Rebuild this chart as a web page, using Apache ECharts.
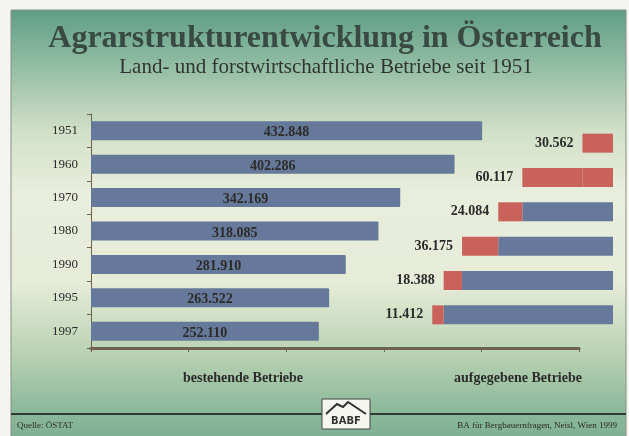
<!DOCTYPE html>
<html>
<head>
<meta charset="utf-8">
<script src="https://cdn.jsdelivr.net/npm/echarts@6/dist/echarts.min.js"></script>
<style>
  html, body { margin: 0; padding: 0; background: #f4f4f0; }
  #chart { width: 629px; height: 436px; }
</style>
</head>
<body>
<div id="chart"></div>
<script>
// bestehende Betriebe
let jahre = ['1951', '1960', '1970', '1980', '1990', '1995', '1997'];
let betriebe = [432848, 402286, 342169, 318085, 281910, 263522, 252110];
// aufgegebene Betriebe (zwischen den Stichjahren)
let perioden = ['1951-1960', '1960-1970', '1970-1980', '1980-1990', '1990-1995', '1995-1997'];
let aufgegeben = [30562, 60117, 24084, 36175, 18388, 11412];
// bereits vorher aufgegeben (blauer Teil rechts)
let bisherAufgegeben = [0, 30562, 90679, 114763, 150938, 169326];

let serif = '"Liberation Serif", "DejaVu Serif", serif';
let blau = '#66799b';
let rot = '#c8625b';
let dunkel = '#2c2c2a';

function zahl(v) {
    return String(v).replace(/(\d)(?=(\d{3})+$)/g, '$1.');
}

// 1960-1970 ist im Original ganz rot gezeichnet
let ganzRot = { color: rot, borderColor: rot, borderWidth: 1.5, opacity: 1 };

let option = {
    animation: false,
    backgroundColor: '#f4f4f0',
    graphic: [
        {
            type: 'rect', z: -10,
            shape: { x: 11, y: 10, width: 615, height: 440 },
            style: {
                fill: new echarts.graphic.LinearGradient(0, 0, 0, 1, [
                    { offset: 0, color: '#5f9d86' },
                    { offset: 0.12, color: '#8fbba2' },
                    { offset: 0.28, color: '#d3e1c8' },
                    { offset: 0.42, color: '#e9eedd' },
                    { offset: 0.62, color: '#e6ecd8' },
                    { offset: 0.78, color: '#b9d2b3' },
                    { offset: 0.9, color: '#8fba9c' },
                    { offset: 1, color: '#78ab90' }
                ]),
                stroke: '#8a8f88', lineWidth: 1
            }
        },
        {
            type: 'line', z: 5,
            shape: { x1: 11, y1: 414, x2: 626, y2: 414 },
            style: { stroke: '#2f3a33', lineWidth: 2 }
        },
        {
            type: 'text', z: 5,
            style: { x: 17, y: 426, text: 'Quelle: ÖSTAT', font: '9px ' + serif, fill: dunkel, verticalAlign: 'middle' }
        },
        {
            type: 'text', z: 5,
            style: { x: 617, y: 426, text: 'BA für Bergbauernfragen, Neisl, Wien 1999', font: '9px ' + serif, fill: dunkel, textAlign: 'right', verticalAlign: 'middle' }
        },
        // Logo
        {
            type: 'rect', z: 6,
            shape: { x: 322, y: 399, width: 48, height: 30 },
            style: { fill: '#f6f6f0', stroke: '#444', lineWidth: 1 }
        },
        {
            type: 'polyline', z: 7,
            shape: { points: [[326, 414], [337, 404], [343, 407], [348, 402], [366, 414]] },
            style: { stroke: '#333', lineWidth: 2, fill: null }
        },
        {
            type: 'text', z: 7,
            style: { x: 346, y: 421, text: 'BABF', font: 'bold 10px "DejaVu Sans", sans-serif', fill: '#333', textAlign: 'center', verticalAlign: 'middle' }
        },
        {
            type: 'text', z: 5,
            style: { x: 243, y: 378, text: 'bestehende Betriebe', font: 'bold 14px ' + serif, fill: dunkel, textAlign: 'center', verticalAlign: 'middle' }
        },
        {
            type: 'text', z: 5,
            style: { x: 518, y: 378, text: 'aufgegebene Betriebe', font: 'bold 14px ' + serif, fill: dunkel, textAlign: 'center', verticalAlign: 'middle' }
        }
    ],
    title: [
        {
            text: 'Agrarstrukturentwicklung in Österreich',
            left: 320, top: 18, textAlign: 'center',
            textStyle: { fontFamily: serif, fontSize: 32, fontWeight: 'bold', color: '#394a44' }
        },
        {
            text: 'Land- und forstwirtschaftliche Betriebe seit 1951',
            left: 321, top: 52, textAlign: 'center',
            textStyle: { fontFamily: serif, fontSize: 21, fontWeight: 'normal', color: '#2f3532' }
        }
    ],
    grid: [
        { left: 91, top: 114, width: 488, height: 234 },
        { left: 413, top: 126, width: 200, height: 206 }
    ],
    xAxis: [
        {
            gridIndex: 0, type: 'value', min: 0, max: 540000, interval: 108000,
            axisLabel: { show: false },
            splitLine: { show: false },
            axisLine: { show: true, lineStyle: { color: '#6f6350', width: 3 } },
            axisTick: { show: true, length: 4, lineStyle: { color: '#6f6350', width: 1 } }
        },
        {
            gridIndex: 1, type: 'value', min: 0, max: 200000, inverse: true, show: false
        }
    ],
    yAxis: [
        {
            gridIndex: 0, type: 'category', data: jahre, inverse: true,
            axisLine: { show: true, lineStyle: { color: '#6f6350', width: 1 } },
            axisTick: { show: true, length: 4, lineStyle: { color: '#6f6350' } },
            axisLabel: { color: dunkel, fontFamily: serif, fontSize: 13, margin: 13 }
        },
        {
            gridIndex: 1, type: 'category', data: perioden, inverse: true, show: false
        }
    ],
    series: [
        {
            name: 'bestehende Betriebe', type: 'bar',
            xAxisIndex: 0, yAxisIndex: 0,
            barWidth: 19,
            itemStyle: { color: blau, borderRadius: 1 },
            label: {
                show: true, position: 'inside', offset: [0, 2],
                color: dunkel, fontFamily: serif, fontSize: 14, fontWeight: 'bold',
                formatter: p => zahl(p.value)
            },
            data: betriebe
        },
        {
            name: 'bisher aufgegeben', type: 'bar', stack: 'weg',
            xAxisIndex: 1, yAxisIndex: 1,
            barWidth: 19,
            itemStyle: { color: blau },
            data: bisherAufgegeben.map((v, i) => i === 1 ? { value: v, itemStyle: ganzRot } : v)
        },
        {
            name: 'aufgegebene Betriebe', type: 'bar', stack: 'weg',
            xAxisIndex: 1, yAxisIndex: 1,
            barWidth: 19,
            itemStyle: { color: rot },
            label: {
                show: true, position: 'left', distance: 9,
                color: dunkel, fontFamily: serif, fontSize: 14, fontWeight: 'bold',
                formatter: p => zahl(p.value)
            },
            data: aufgegeben.map((v, i) => i === 1 ? { value: v, itemStyle: ganzRot } : v)
        }
    ]
};

let myChart = echarts.init(document.getElementById('chart'));
myChart.setOption(option);
</script>
</body>
</html>
